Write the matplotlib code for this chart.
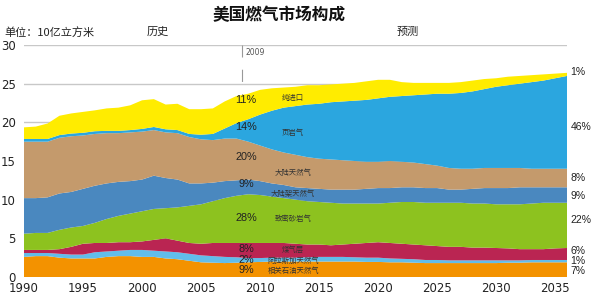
import matplotlib
matplotlib.use("Agg")
import matplotlib.pyplot as plt
import numpy as np

plt.rcParams['font.family'] = ['Noto Sans CJK SC', 'DejaVu Sans']

years = list(range(1990, 2037))

associated = [2.6,2.7,2.7,2.5,2.4,2.4,2.4,2.6,2.7,2.7,2.6,2.6,2.4,2.3,2.1,1.9,1.85,1.8,1.85,1.9,
              1.95,2.0,2.0,2.0,2.0,2.0,2.0,2.0,2.0,1.95,1.95,1.9,1.9,1.85,1.8,1.8,1.8,1.8,1.8,1.8,
              1.8,1.85,1.85,1.9,1.9,1.9,1.9]
alaska = [0.5,0.4,0.4,0.5,0.5,0.5,0.8,0.7,0.7,0.8,0.9,0.8,0.9,0.9,0.9,0.9,0.85,0.8,0.7,0.55,
          0.5,0.5,0.5,0.5,0.55,0.6,0.6,0.6,0.55,0.55,0.55,0.5,0.45,0.45,0.4,0.4,0.35,0.35,0.35,0.35,
          0.35,0.3,0.3,0.3,0.3,0.3,0.3]
coalbed = [0.4,0.4,0.4,0.6,1.0,1.4,1.2,1.1,1.1,1.0,1.1,1.4,1.7,1.5,1.4,1.5,1.7,1.8,1.85,1.95,
           1.95,1.9,1.9,1.8,1.65,1.6,1.5,1.6,1.75,1.9,2.0,2.0,1.95,1.9,1.9,1.8,1.75,1.75,1.65,1.65,
           1.6,1.55,1.45,1.4,1.4,1.5,1.55]
tight = [2.1,2.2,2.2,2.5,2.5,2.3,2.6,3.1,3.4,3.7,3.9,4.0,3.9,4.3,4.8,5.1,5.4,5.8,6.1,6.3,
         6.2,6.0,5.8,5.7,5.6,5.5,5.5,5.3,5.2,5.1,5.0,5.2,5.4,5.5,5.5,5.6,5.7,5.7,5.7,5.7,
         5.65,5.7,5.8,5.9,6.0,5.9,5.85]
offshore = [4.6,4.5,4.6,4.7,4.6,4.8,4.8,4.6,4.4,4.2,4.1,4.3,3.9,3.6,2.9,2.7,2.4,2.2,2.0,1.9,
            1.8,1.7,1.7,1.6,1.7,1.7,1.7,1.8,1.8,1.9,2.0,1.9,1.9,1.9,1.9,1.9,1.7,1.7,1.9,2.0,
            2.1,2.1,2.2,2.1,2.0,2.0,2.0]
onshore = [7.3,7.3,7.2,7.2,7.2,6.9,6.7,6.5,6.3,6.3,6.2,5.9,5.9,6.0,6.0,5.7,5.5,5.5,5.4,4.9,
           4.6,4.4,4.2,4.2,4.0,3.9,3.9,3.8,3.7,3.5,3.4,3.5,3.3,3.2,3.1,2.9,2.8,2.7,2.6,2.6,
           2.6,2.6,2.5,2.4,2.4,2.4,2.4]
shale = [0.35,0.35,0.35,0.35,0.35,0.35,0.35,0.3,0.3,0.3,0.35,0.4,0.4,0.4,0.4,0.6,0.8,1.3,2.0,2.9,
         4.0,5.0,5.8,6.3,6.8,7.1,7.4,7.6,7.8,8.0,8.2,8.3,8.5,8.7,9.0,9.3,9.6,9.8,10.0,10.2,
         10.5,10.7,10.9,11.2,11.4,11.7,12.0]
imports = [1.5,1.6,2.0,2.5,2.6,2.7,2.7,2.9,3.0,3.2,3.7,3.6,3.2,3.4,3.2,3.3,3.3,3.5,3.5,3.3,
           3.2,2.9,2.6,2.5,2.5,2.4,2.3,2.3,2.3,2.4,2.4,2.2,1.8,1.6,1.5,1.4,1.4,1.4,1.4,1.3,
           1.1,1.1,1.0,0.9,0.8,0.6,0.4]

series_names = ['相关石油天然气', '阿拉斯加天然气', '煤气层', '致密砂岩气',
                '大陆架天然气', '大陆天然气', '页岩气', '纯进口']
colors = ['#F39200', '#62BDEA', '#BA2552', '#8DC21F', '#4A88BF', '#C49A6C', '#2BA6DF', '#FFEC00']
pct_2009 = ['9%', '2%', '8%', '28%', '9%', '20%', '14%', '11%']
pct_2035 = ['7%', '1%', '6%', '22%', '9%', '8%', '46%', '1%']

pct_2009_y = [0.85, 2.25, 3.6, 7.6, 12.0, 15.5, 19.4, 22.9]
name_y = [0.8, 2.1, 3.5, 7.5, 10.7, 13.4, 18.6, 23.1]
pct_2035_y = [0.8, 2.1, 3.4, 7.4, 10.5, 12.8, 19.4, 26.5]

xticks = list(range(1990, 2036, 5))
yticks = list(range(0, 31, 5))

W, H = 591, 296
fig = plt.figure(figsize=(W / 100, H / 100), dpi=100)
ax = fig.add_axes([24 / W, 19 / H, 543 / W, 232 / H])

ax.stackplot(years, associated, alaska, coalbed, tight, offshore, onshore, shale, imports,
             colors=colors, linewidth=0, zorder=3)

ax.set_xlim(1990, 2036)
ax.set_ylim(0, 30)
for s in ax.spines.values():
    s.set_visible(False)
ax.set_yticks(yticks)
ax.set_xticks(xticks)
ax.set_xticklabels([str(t) for t in xticks], family='DejaVu Sans', fontsize=8.5, color='#222222')
ax.set_yticklabels([str(t) for t in yticks], family='DejaVu Sans', fontsize=8.5, color='#222222')
ax.tick_params(axis='both', length=0)
ax.tick_params(axis='y', pad=6)
ax.tick_params(axis='x', pad=3.5)
ax.grid(axis='y', color='#c8c8c8', linewidth=1, zorder=0)
ax.set_axisbelow(True)

ax.axvline(2008.5, color='#999999', linewidth=0.8, linestyle=(0, (11, 11)), zorder=1)
ax.text(2008.8, 29.0, '2009', fontsize=5.5, color='#555555', ha='left', va='center',
        family='DejaVu Sans')

for p, yy in zip(pct_2009, pct_2009_y):
    ax.text(2008.8, yy, p, fontsize=7.8, color='#222222', ha='center', va='center', zorder=5,
            family='Liberation Sans')
for n, yy in zip(series_names, name_y):
    ax.text(2012.8, yy, n, fontsize=5.3, color='#333333', ha='center', va='center', zorder=5)
for p, yy in zip(pct_2035, pct_2035_y):
    ax.text(2036.3, yy, p, fontsize=7.5, color='#222222', ha='left', va='center', zorder=5,
            family='Liberation Sans')

fig.text(279 / W, 1 - 15 / H, '美国燃气市场构成', fontsize=12, fontweight='bold',
         ha='center', va='center', color='#111111')
fig.text(4 / W, 1 - 32 / H, '单位：10亿立方米', fontsize=8, ha='left', va='center', color='#222222')
fig.text(147 / W, 1 - 32 / H, '历史', fontsize=8, ha='left', va='center', color='#222222')
fig.text(397 / W, 1 - 32 / H, '预测', fontsize=8, ha='left', va='center', color='#222222')

fig.savefig('out.png', dpi=100)
